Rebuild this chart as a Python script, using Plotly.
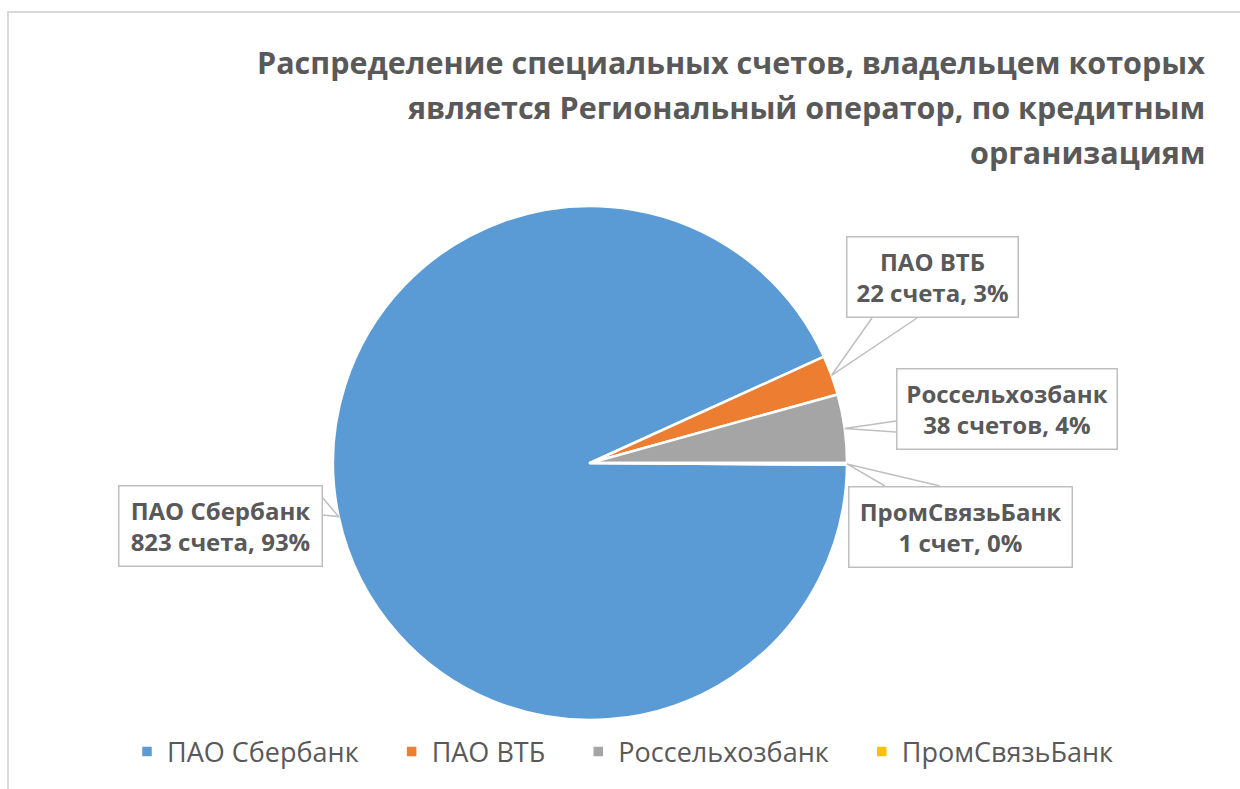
import math
import plotly.graph_objects as go

# ---- data ----
banks = ["ПАО Сбербанк", "ПАО ВТБ", "Россельхозбанк", "ПромСвязьБанк"]
accounts = [823, 22, 38, 1]
label_counts = ["823 счета", "22 счета", "38 счетов", "1 счет"]
label_percents = ["93%", "3%", "4%", "0%"]
colors = ["#5B9BD5", "#ED7D31", "#A5A5A5", "#FFC000"]
title_lines = ["Распределение специальных счетов, владельцем которых",
               "является Региональный оператор, по кредитным",
               "организациям"]

# ---- layout constants (pixels) ----
FW, FH = 1240, 789
CX, CY, R = 590, 463, 257
TEXT = "#595959"
FONT = "Open Sans"

total = sum(accounts)
first_start_math = -360.0 * accounts[-1] / total  # first slice starts just below 3 o'clock
rotation = 90 - first_start_math


def px(x):
    return x / FW


def py(y):
    return 1 - y / FH


legend_names = [b + "\u00a0" * 4 for b in banks]

fig = go.Figure(go.Pie(
    labels=legend_names, values=accounts, sort=False, direction="clockwise",
    rotation=rotation,
    marker=dict(colors=colors, line=dict(color="white", width=2.5)),
    textinfo="none", hoverinfo="label+value+percent",
    domain=dict(x=[px(CX - R), px(CX + R)], y=[py(CY + R), py(CY - R)]),
))

# slice mid angles (math convention, degrees) computed from the data
mids = []
acc = 0.0
for v in accounts:
    a0 = first_start_math - 360.0 * acc / total
    a1 = first_start_math - 360.0 * (acc + v) / total
    mids.append((a0 + a1) / 2)
    acc += v

# label boxes: (left, top, right, bottom) and pointer base points
boxes = [
    dict(box=(118, 485, 322, 566), base=[(322, 497), (322, 515)]),
    dict(box=(846, 237, 1018, 318), base=[(872, 318), (917, 318)]),
    dict(box=(896, 368, 1117, 449), base=[(896, 421), (896, 432)]),
    dict(box=(848, 486, 1072, 567), base=[(885, 486), (940, 486)]),
]

shapes = []
annotations = []
for i, b in enumerate(boxes):
    l, t, r, bt = b["box"]
    ang = math.radians(mids[i])
    tx = CX + R * math.cos(ang)
    ty = CY - R * math.sin(ang)
    (x1, y1), (x2, y2) = b["base"]
    shapes.append(dict(
        type="path", xref="paper", yref="paper",
        path=f"M{px(x1)},{py(y1)} L{px(tx)},{py(ty)} L{px(x2)},{py(y2)}",
        line=dict(color="#BFBFBF", width=1.5), layer="above"))
    annotations.append(dict(
        xref="paper", yref="paper", x=px((l + r) / 2), y=py((t + bt) / 2),
        xanchor="center", yanchor="middle", showarrow=False,
        text=f"<b>{banks[i]}<br>{label_counts[i]}, {label_percents[i]}</b>",
        font=dict(family=FONT, size=24, color=TEXT),
        align="center", bgcolor="white", bordercolor="#BFBFBF", borderwidth=1.5,
        borderpad=0, width=r - l - 2, height=bt - t - 2))

# title, one annotation per line to keep the original line spacing
for k, line in enumerate(title_lines):
    annotations.append(dict(
        xref="paper", yref="paper", x=px(1207), y=py(62 + 45 * k),
        xanchor="right", yanchor="middle", showarrow=False, align="right",
        text=f"<b>{line}</b>", font=dict(family=FONT, size=30.5, color=TEXT)))

# outer chart frame (left and top edges are visible in the crop)
shapes.append(dict(type="path", xref="paper", yref="paper",
                   path=f"M{px(8)},{py(FH + 5)} L{px(8)},{py(12)} L{px(FW + 5)},{py(12)}",
                   line=dict(color="#D9D9D9", width=2), layer="below"))

fig.update_layout(
    width=FW, height=FH,
    margin=dict(l=0, r=0, t=0, b=0),
    paper_bgcolor="white", plot_bgcolor="white",
    font=dict(family=FONT, color=TEXT),
    showlegend=True,
    legend=dict(orientation="h", x=px(637), xanchor="center", y=py(752), yanchor="middle",
                font=dict(family=FONT, size=27, color=TEXT), traceorder="normal"),
    shapes=shapes, annotations=annotations,
)

fig.write_html(
    "out.html",
    config={"displayModeBar": False},
    post_script="document.body.style.margin='0';document.body.style.overflow='hidden';",
)
